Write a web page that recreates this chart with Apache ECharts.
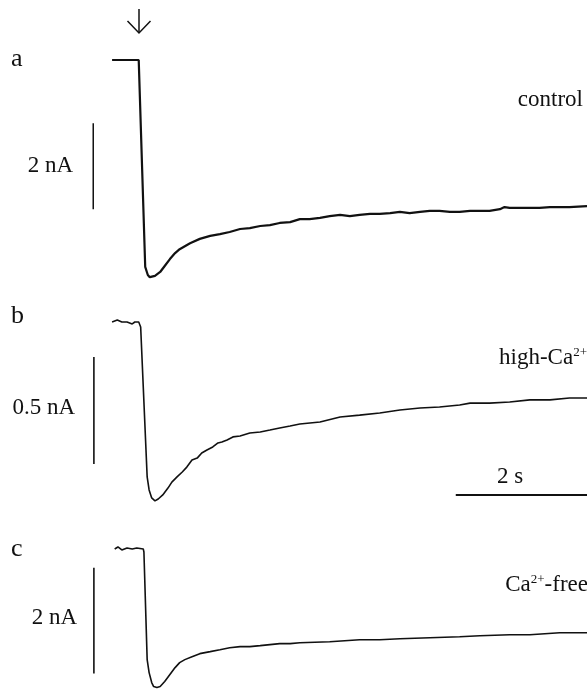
<!DOCTYPE html>
<html>
<head>
<meta charset="utf-8">
<script src="https://cdn.jsdelivr.net/npm/echarts@6/dist/echarts.min.js"></script>
<style>html,body{margin:0;padding:0;background:#fff}#c{width:587px;height:689px}</style>
</head>
<body>
<div id="c"></div>
<script>
// time in seconds (0 = stimulus), current in nA
const timeA = [-0.46,-0.05,0.05,0.09,0.12,0.2,0.28,0.35,0.43,0.51,0.58,0.66,0.74,0.89,1.05,1.2,1.35,1.51,1.66,1.82,1.97,2.12,2.28,2.43,2.58,2.74,2.89,3.05,3.2,3.35,3.51,3.66,3.82,3.97,4.12,4.28,4.43,4.58,4.74,4.89,5.05,5.2,5.35,5.51,5.58,5.66,5.82,5.97,6.12,6.28,6.43,6.58,6.85];
const controlA = [0,0,-4.81,-5.0,-5.05,-5.02,-4.93,-4.79,-4.63,-4.49,-4.4,-4.33,-4.26,-4.16,-4.09,-4.05,-4.0,-3.93,-3.91,-3.86,-3.84,-3.79,-3.77,-3.7,-3.7,-3.67,-3.63,-3.6,-3.63,-3.6,-3.58,-3.58,-3.56,-3.53,-3.56,-3.53,-3.51,-3.51,-3.53,-3.53,-3.51,-3.51,-3.51,-3.47,-3.42,-3.44,-3.44,-3.44,-3.44,-3.42,-3.42,-3.42,-3.4];

const timeB = [-0.46,-0.38,-0.31,-0.23,-0.15,-0.11,-0.05,-0.02,0.08,0.11,0.15,0.2,0.25,0.32,0.4,0.46,0.54,0.62,0.69,0.77,0.85,0.92,1.0,1.09,1.17,1.23,1.31,1.4,1.51,1.66,1.82,1.97,2.12,2.28,2.43,2.74,3.05,3.35,3.66,3.97,4.28,4.58,4.89,5.05,5.35,5.66,5.97,6.28,6.58,6.85];
const highCaB = [0,0.009,0,0,-0.009,0,0,-0.023,-0.724,-0.785,-0.822,-0.836,-0.827,-0.808,-0.776,-0.748,-0.724,-0.701,-0.678,-0.645,-0.636,-0.612,-0.598,-0.584,-0.565,-0.561,-0.551,-0.537,-0.533,-0.519,-0.514,-0.505,-0.495,-0.486,-0.477,-0.467,-0.444,-0.435,-0.425,-0.411,-0.402,-0.397,-0.388,-0.379,-0.379,-0.374,-0.364,-0.364,-0.355,-0.355];

const timeC = [-0.42,-0.37,-0.31,-0.23,-0.15,-0.08,0.02,0.03,0.08,0.11,0.15,0.18,0.23,0.28,0.35,0.43,0.51,0.58,0.66,0.77,0.89,1.05,1.2,1.35,1.51,1.66,1.82,1.97,2.12,2.28,2.43,2.89,3.35,3.66,3.97,4.43,4.89,5.2,5.66,5.97,6.43,6.85];
const caFreeC = [0,0.038,-0.019,0.019,0,0.019,0,-0.057,-2.094,-2.34,-2.528,-2.604,-2.623,-2.604,-2.509,-2.377,-2.245,-2.151,-2.094,-2.038,-1.981,-1.943,-1.906,-1.868,-1.849,-1.849,-1.83,-1.811,-1.792,-1.792,-1.774,-1.755,-1.717,-1.717,-1.698,-1.679,-1.66,-1.642,-1.623,-1.623,-1.585,-1.585];

// scale bars: [time, current] endpoints
const barA = [[-0.75,-1.47],[-0.75,-3.47]];   // 2 nA
const barB = [[-0.74,-0.164],[-0.74,-0.664]]; // 0.5 nA
const barC = [[-0.74,-0.358],[-0.74,-2.358]]; // 2 nA
const barTime = [[4.83,-0.808],[6.85,-0.808]]; // 2 s

const pair = (t, v) => t.map((x, i) => [x, v[i]]);
const serif = '"Liberation Serif", "DejaVu Serif", serif';

const grids = [
  {left: 77, right: 0, top: 38.5, height: 258},
  {left: 77, right: 0, top: 300.6, height: 224.7},
  {left: 77, right: 0, top: 533.1, height: 156.35}
];
const yr = [[-5.5, 0.5], [-0.95, 0.1], [-2.65, 0.3]];

const xAxis = grids.map((g, i) => ({type: 'value', gridIndex: i, min: -1, max: 6.85, show: false}));
const yAxis = grids.map((g, i) => ({type: 'value', gridIndex: i, min: yr[i][0], max: yr[i][1], show: false}));

const line = (data, i, w) => ({
  type: 'line', xAxisIndex: i, yAxisIndex: i, data, symbol: 'none', silent: true,
  lineStyle: {color: '#111', width: w}, animation: false, clip: false
});

const txt = (text, x, y, size, align, rich) => ({
  type: 'text', x, y, silent: true,
  style: {text, font: size + 'px ' + serif, fontSize: size, fontFamily: serif, fill: '#111',
    align, verticalAlign: 'middle', textAlign: align, textVerticalAlign: 'middle', rich}
});
const supRich = {
  n: {fontSize: 23, fontFamily: serif, color: '#111', lineHeight: 24},
  s: {fontSize: 13, fontFamily: serif, color: '#111', verticalAlign: 'top', lineHeight: 24, padding: [0, 0, 9, 0]}
};

const chart = echarts.init(document.getElementById('c'), null, {renderer: 'canvas'});
chart.setOption({
  backgroundColor: '#fff',
  animation: false,
  grid: grids,
  xAxis, yAxis,
  series: [
    line(pair(timeA, controlA), 0, 2.2),
    line(pair(timeB, highCaB), 1, 1.6),
    line(pair(timeC, caFreeC), 2, 1.6),
    line(barA, 0, 1.5),
    line(barB, 1, 1.6),
    line(barC, 2, 1.6),
    line(barTime, 1, 2)
  ],
  graphic: [
    txt('a', 11, 59, 26, 'left'),
    txt('b', 11, 316, 26, 'left'),
    txt('c', 11, 549, 26, 'left'),
    txt('control', 583, 100, 23, 'right'),
    txt('{n|high-Ca}{s|2+}', 587, 358, 23, 'right', supRich),
    txt('{n|Ca}{s|2+}{n|-free}', 588, 585, 23, 'right', supRich),
    txt('2 nA', 73, 166, 23, 'right'),
    txt('0.5 nA', 75, 408, 23, 'right'),
    txt('2 nA', 77, 618, 23, 'right'),
    txt('2 s', 510, 477, 23, 'center'),
    {type: 'polyline', silent: true, shape: {points: [[139, 9], [139, 33]]}, style: {stroke: '#111', lineWidth: 1.5, fill: null}},
    {type: 'polyline', silent: true, shape: {points: [[127.5, 21], [139, 33], [150.5, 21]]}, style: {stroke: '#111', lineWidth: 1.5, fill: null}}
  ]
});
</script>
</body>
</html>
